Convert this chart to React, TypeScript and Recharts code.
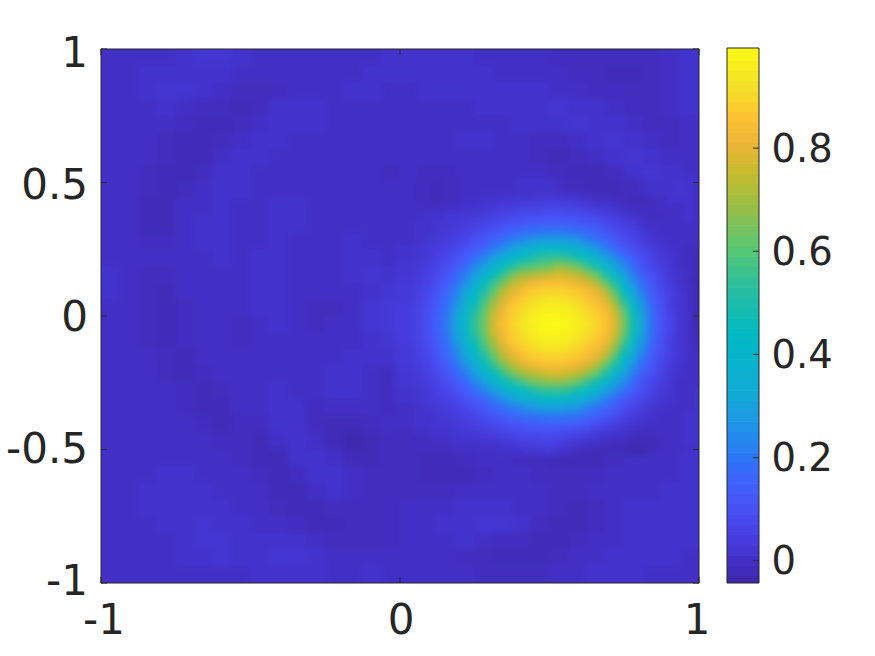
import React from 'react';
import { ScatterChart, Scatter, XAxis, YAxis, ReferenceArea } from 'recharts';

// Field values, in hundredths. Rows run from y = 1 down to y = -1.
const coarseTop = [
  [0,0,0,0,1,2,2,1,0,0,0,0,0,0,0,1,1,1,1,1,0,0,0,0,-1,-1,-1,-1,-1,-1,0,1],
  [0,0,1,1,1,1,1,0,0,0,0,0,0,0,1,1,1,1,1,1,1,0,0,0,0,-1,-1,-2,-2,-1,0,1],
  [0,0,1,2,2,1,0,-1,-1,-1,0,0,0,1,1,0,0,1,1,1,1,1,1,1,0,0,-1,-1,-1,-1,0,1],
  [0,0,0,1,0,-1,-1,-2,-1,1,1,1,0,0,0,0,0,0,0,0,1,1,1,1,2,1,1,0,-1,-1,0,1],
  [0,0,0,0,-1,-2,-2,-1,0,1,1,1,0,0,0,0,0,0,0,0,0,0,1,1,1,2,1,1,0,-1,-1,0],
  [0,0,0,-1,-2,-2,-1,0,1,1,0,0,0,0,0,0,0,0,0,1,1,0,0,-1,-1,0,1,2,1,0,-1,0],
  [0,0,0,-1,-2,-2,0,1,1,0,0,0,0,0,0,0,0,0,0,0,0,0,0,-1,-2,-1,0,1,2,1,0,0],
  [0,0,-1,-2,-2,-1,1,1,0,0,0,0,0,0,0,-1,0,-1,-1,0,0,0,0,0,-1,-2,-2,-1,1,2,1,0],
];
const coarseMiddle = [
  [0,0,-1,-2,-1,0,1,1,0,0,0,0,0,0,0,0],
  [0,0,-2,-2,0,0,1,0,0,1,1,0,0,0,0,0],
  [0,0,-2,-2,0,1,1,0,0,1,1,0,0,0,0,0],
  [0,0,-1,-1,0,1,1,0,0,1,0,0,0,1,0,0],
  [0,0,0,0,0,0,1,0,1,1,0,0,0,1,1,0],
  [1,0,-1,-1,0,0,0,0,1,1,0,0,0,1,2,1],
  [1,0,-1,-2,0,0,0,0,1,1,0,0,0,0,1,2],
  [0,0,-1,-2,-1,0,0,0,1,1,0,-1,-1,0,2,3],
  [0,0,-1,-2,-1,0,0,-1,0,1,0,-1,0,0,2,3],
  [0,0,-1,-2,-1,0,0,-1,0,0,0,0,0,0,1,2],
  [0,0,0,-1,-2,0,0,0,0,0,0,0,0,1,1,1],
  [0,0,0,-1,-2,-1,0,0,0,0,0,0,1,1,0,-1],
  [0,0,0,0,-1,-2,-1,0,0,1,0,0,1,1,0,-1],
  [0,0,0,0,-1,-2,-2,0,0,1,1,-1,0,0,0,-1],
  [0,0,0,0,0,-1,-2,-1,-1,1,1,-1,-2,-2,-1,0],
  [0,0,0,0,0,0,-1,-1,-2,0,1,0,-2,-3,-2,-1],
];
const coarseBottom = [
  [0,0,0,0,0,0,0,-1,-2,-2,1,1,0,-2,-2,-1,-1,-2,-2,-1,0,0,-1,-1,-2,-2,-2,-1,0,0,0,1],
  [0,0,0,1,1,0,0,0,-1,-2,-1,1,1,0,-1,-1,-1,-2,-2,-2,-1,0,0,-1,-1,-1,-1,0,0,0,0,1],
  [0,0,1,1,1,1,0,0,0,-2,-2,0,1,0,-1,-1,-1,-1,-1,0,0,0,0,0,-1,-1,0,0,0,0,1,1],
  [0,0,1,1,1,1,1,0,0,-1,-2,-2,-1,-1,-1,-1,0,0,0,1,1,1,0,0,-1,-2,-1,0,1,1,1,1],
  [0,0,0,1,1,2,1,1,0,0,-1,-2,-2,-1,-1,-1,0,0,1,1,2,2,1,-1,-2,-2,-1,0,1,1,1,1],
  [0,0,0,0,1,2,2,1,1,1,1,0,-1,-1,-1,-1,0,0,0,1,0,-1,-1,-2,-2,-1,0,0,1,1,1,1],
  [0,0,0,0,1,1,2,1,1,2,2,1,0,0,0,0,0,0,0,-1,-1,-2,-2,-2,-1,0,0,1,1,1,1,0],
  [0,0,0,0,0,0,0,0,1,1,1,1,0,0,1,0,0,0,0,0,-1,-1,-1,-1,0,0,1,1,1,0,0,0],
];
// Finer readings around the bright spot, left to right and top to bottom
const spotRows = [
  [0,0,-1,-1,-2,-1,-1,0,0,0,0,0,0,1,1,1,1,0,-1,-1,-2,-2,-2,-2,-1,-1,0,1,1,1,2,1,0],
  [0,0,-1,-1,-2,-1,-1,0,0,0,0,0,0,1,1,1,1,0,-1,-1,-2,-2,-2,-2,-1,-1,0,1,1,1,2,1,0],
  [0,0,-1,-1,-2,-1,-1,0,0,1,1,2,2,2,2,3,3,3,2,2,1,0,0,-1,-1,-2,-2,-1,0,1,1,1,0],
  [0,0,0,-1,-1,0,0,1,1,2,3,4,4,5,5,6,6,6,6,5,4,3,2,1,0,-1,-1,-1,0,0,0,1,0],
  [0,0,0,1,1,2,2,3,3,4,5,6,7,8,9,9,10,10,9,9,8,7,5,4,2,1,0,-1,-1,0,0,1,0],
  [0,0,1,1,2,2,3,4,5,6,8,9,11,12,13,14,14,14,14,13,12,11,9,7,5,3,1,0,0,0,0,0,0],
  [0,0,1,1,2,3,4,5,7,9,11,13,16,17,19,20,21,21,20,19,17,15,12,9,7,5,3,1,0,0,0,0,0],
  [0,0,1,2,3,4,5,7,10,12,16,18,22,24,27,29,30,30,29,27,23,20,16,13,9,7,4,2,1,0,0,0,-1],
  [1,1,2,3,4,5,7,10,13,16,21,25,30,34,37,40,41,41,40,37,33,28,22,17,12,9,6,4,2,1,0,-1,-1],
  [1,1,2,3,5,7,10,13,17,23,28,33,40,44,48,53,54,54,53,47,43,38,30,24,18,13,9,6,3,2,0,-1,-2],
  [2,2,3,4,6,9,12,16,23,29,36,43,50,56,58,60,62,67,65,62,55,48,39,31,24,17,10,7,4,2,0,-1,-2],
  [2,2,3,5,8,11,16,21,28,36,44,54,62,68,70,72,75,77,76,73,68,61,51,39,30,21,14,10,6,2,1,-1,-2],
  [3,3,4,6,9,13,18,25,33,43,54,63,72,77,81,83,84,84,83,81,78,72,61,50,36,25,17,11,7,3,1,-1,-3],
  [3,3,5,7,11,16,22,30,40,50,60,72,78,83,87,88,89,89,88,87,84,80,73,59,44,31,20,14,8,5,2,0,-3],
  [3,3,5,8,12,17,24,34,44,56,66,77,83,87,90,92,93,93,92,90,87,84,79,67,51,35,24,14,9,5,2,0,-3],
  [4,4,6,9,13,19,27,37,48,60,71,81,87,90,93,95,96,96,95,93,90,87,83,74,58,41,27,17,10,5,2,0,-3],
  [4,4,6,9,14,20,29,40,53,62,76,83,88,92,95,97,98,98,97,95,92,89,85,78,63,46,29,18,10,6,2,0,-3],
  [4,4,6,10,14,21,30,41,54,63,77,84,89,93,96,98,99,99,98,96,93,90,86,79,65,47,30,18,11,6,3,0,-3],
  [4,4,6,9,14,20,29,40,53,62,76,83,88,92,95,97,98,98,97,95,92,89,85,78,63,46,29,18,10,6,2,0,-2],
  [4,4,6,9,13,19,27,37,48,60,71,81,87,90,93,95,96,96,95,93,90,87,83,74,58,41,27,17,10,5,2,0,-2],
  [3,3,5,8,12,17,24,34,44,56,66,77,83,87,90,92,93,93,92,90,87,84,79,67,51,35,24,14,9,5,2,0,-1],
  [3,3,5,7,11,16,22,30,40,50,60,72,78,83,87,88,89,89,88,87,84,80,73,59,44,31,20,14,8,5,2,0,0],
  [3,3,4,6,9,13,18,25,33,43,54,63,72,77,81,83,84,84,83,81,78,72,61,50,36,25,17,11,7,3,1,0,0],
  [2,2,3,5,8,11,16,21,28,36,44,54,62,68,72,74,77,77,76,73,68,61,51,39,30,21,14,10,6,2,1,0,0],
  [2,2,3,4,6,9,12,16,23,29,36,43,50,56,62,65,66,67,65,62,55,48,39,31,24,17,10,7,4,2,0,0,0],
  [1,1,2,3,5,7,10,13,17,23,28,33,40,44,48,53,54,54,53,47,43,38,30,24,18,13,9,6,3,2,0,0,1],
  [1,1,2,3,4,5,7,10,13,16,21,25,30,34,37,40,41,41,40,37,33,28,22,17,12,9,6,4,2,1,0,0,1],
  [0,0,1,2,3,4,5,7,10,12,16,18,22,24,27,29,30,30,29,27,23,20,16,13,9,7,4,2,1,0,0,0,1],
  [0,0,1,1,2,3,4,5,7,9,11,13,16,17,19,20,21,21,20,19,17,15,12,9,6,4,2,1,0,0,0,1,1],
  [0,0,1,1,2,2,3,4,5,6,8,9,11,12,13,14,14,14,14,13,11,9,7,5,3,2,1,0,0,0,0,1,1],
  [-1,-1,0,0,1,1,2,3,3,4,5,6,7,8,9,9,10,9,8,7,6,4,3,2,1,0,-1,-1,0,0,0,1,1],
  [-1,-1,-1,-1,0,0,1,1,1,2,2,3,4,5,5,6,6,5,4,3,2,1,0,-1,-1,-2,-2,-2,-1,0,0,1,1],
  [-1,-1,-1,-1,-1,-1,0,0,0,0,0,1,1,2,3,3,4,2,1,0,-1,-2,-2,-2,-2,-3,-3,-2,-1,0,0,0,1],
];
const colorbarLevels = [-4,-2,0,2,4,6,8,10,12,14,16,18,20,22,24,26,28,30,32,34,36,38,40,42,44,46,48,50,52,54,56,58,60,62,64,66,68,70,72,74,76,78,80,82,84,86,88,90,92,94,96,98,100];
const axisTicks = [-1, 0, 1];
const yTicks = [-1, -0.5, 0, 0.5, 1];
const barTicks = [0, 0.2, 0.4, 0.6, 0.8];
const plotCorners = [{ x: -1, y: -1 }, { x: 1, y: 1 }];
const valueMin = -0.043;
const valueMax = 0.994;
const barCorners = [{ x: -1, y: valueMin }, { x: 1, y: valueMax }];

const parulaStops: [number, number, number, number][] = [
  [0, 62, 38, 168], [0.048, 67, 50, 203], [0.095, 71, 65, 229], [0.143, 72, 82, 244], [0.19, 62, 99, 253],
  [0.234, 45, 118, 245], [0.3, 30, 150, 230], [0.35, 20, 170, 215], [0.465, 0, 187, 195], [0.55, 40, 190, 160],
  [0.62, 85, 200, 120], [0.7, 150, 190, 70], [0.77, 200, 188, 45], [0.82, 235, 180, 55], [0.87, 254, 195, 50],
  [0.93, 245, 225, 40], [1, 250, 250, 20],
];
function parula(hundredths: number) {
  const t = Math.max(0, Math.min(1, (hundredths / 100 - valueMin) / (valueMax - valueMin)));
  for (let i = 1; i < parulaStops.length; i++) {
    const a = parulaStops[i - 1], b = parulaStops[i];
    if (t <= b[0]) {
      const f = (t - a[0]) / (b[0] - a[0]);
      return `rgb(${Math.round(a[1] + (b[1] - a[1]) * f)},${Math.round(a[2] + (b[2] - a[2]) * f)},${Math.round(a[3] + (b[3] - a[3]) * f)})`;
    }
  }
  return 'rgb(250,250,20)';
}

const W = 875, H = 656, L = 101, R = 699, T = 49, B = 583;
const PW = R - L, PH = B - T;
const INK = '#262626';
const FONT = { fontFamily: 'DejaVu Sans', fontSize: 42, fill: INK };
const BAR_FONT = { fontFamily: 'DejaVu Sans', fontSize: 38.5, fill: INK };

type Cell = { x: number; y: number; v: number; fine: boolean };
const cells: Cell[] = [];
[...coarseTop, ...coarseMiddle, ...coarseBottom].forEach((row, j) =>
  row.forEach((v, i) => cells.push({ x: -1 + (i + 0.5) / 16, y: 1 - (j + 0.5) / 16, v, fine: false })));
const fineCells: Cell[] = [];
spotRows.forEach((row, j) =>
  row.forEach((v, i) => fineCells.push({ x: i / 32, y: 0.5 - j / 32, v, fine: true })));
const barCells = colorbarLevels.map((v) => ({ x: 0, y: v / 100, v }));

const HeatCell = (p: any) => {
  const fine = p.payload.fine;
  const cw = fine ? PW / 64 : PW / 32;
  const ch = fine ? PH / 64 : PH / 32;
  let x0 = p.cx - cw / 2, x1 = p.cx + cw / 2, y0 = p.cy - ch / 2, y1 = p.cy + ch / 2;
  if (x0 <= L + 1) x0 -= 14;
  if (x1 >= R - 1) x1 += 14;
  if (y0 <= T + 1) y0 -= 14;
  if (y1 >= B - 1) y1 += 14;
  return <rect x={x0 - 0.4} y={y0 - 0.4} width={x1 - x0 + 0.8} height={y1 - y0 + 0.8} fill={parula(p.payload.v)} />;
};
const BarCell = (p: any) => {
  const h = (535 * 0.02) / (valueMax - valueMin);
  return <rect x={727} y={p.cy - h / 2 - 0.3} width={32} height={h + 0.6} fill={parula(p.payload.v)} />;
};
const NoMark = () => <g />;

const label = (v: number) => String(v);
const xShift: Record<string, number> = { '-1': 3, '0': 1, '1': -2 };
const XTick = (p: any) => (
  <g>
    <line x1={p.x} x2={p.x} y1={B} y2={B - 6} stroke={INK} />
    <line x1={p.x} x2={p.x} y1={T} y2={T + 6} stroke={INK} />
    <text x={p.x + xShift[String(p.payload.value)]} y={634} textAnchor="middle" {...FONT}>{label(p.payload.value)}</text>
  </g>
);
const yShift: Record<string, number> = { '1': 17.5, '0.5': 16, '0': 14.7, '-0.5': 13.3, '-1': 12 };
const YTick = (p: any) => (
  <g>
    <line x1={L} x2={L + 6} y1={p.y} y2={p.y} stroke={INK} />
    <line x1={R} x2={R - 6} y1={p.y} y2={p.y} stroke={INK} />
    <text x={88} y={p.y + yShift[String(p.payload.value)]} textAnchor="end" {...FONT}>{label(p.payload.value)}</text>
  </g>
);
const BarTick = (p: any) => (
  <g>
    <line x1={759} x2={753} y1={p.y} y2={p.y} stroke={INK} />
    <text x={771.5} y={p.y + 13.5} textAnchor="start" {...BAR_FONT}>{label(p.payload.value)}</text>
  </g>
);

const layer: React.CSSProperties = { position: 'absolute', left: 0, top: 0 };

export default function App() {
  const plotMargin = { left: L, right: W - R, top: T, bottom: H - B };
  return (
    <div style={{ position: 'absolute', left: 0, top: 0, width: W, height: H, background: '#fff', overflow: 'hidden' }}>
      <div style={{ position: 'absolute', left: L, top: T, width: PW, height: PH, overflow: 'hidden' }}>
        <div style={{ position: 'absolute', left: -L, top: -T, width: W, height: H, filter: 'blur(3px)' }}>
          <ScatterChart width={W} height={H} margin={plotMargin}>
            <XAxis type="number" dataKey="x" domain={[-1, 1]} hide />
            <YAxis type="number" dataKey="y" domain={[-1, 1]} hide />
            <Scatter data={cells} isAnimationActive={false} shape={HeatCell} />
            <Scatter data={fineCells} isAnimationActive={false} shape={HeatCell} />
          </ScatterChart>
        </div>
      </div>
      <div style={{ position: 'absolute', left: 727, top: 48, width: 32, height: 535, overflow: 'hidden' }}>
        <div style={{ position: 'absolute', left: -727, top: -48, width: W, height: H }}>
          <ScatterChart width={W} height={H} margin={{ left: 727, right: W - 759, top: 48, bottom: H - 583 }}>
            <XAxis type="number" dataKey="x" domain={[-1, 1]} hide />
            <YAxis type="number" dataKey="y" domain={[valueMin, valueMax]} allowDataOverflow hide />
            <Scatter data={barCells} isAnimationActive={false} shape={BarCell} />
          </ScatterChart>
        </div>
      </div>
      <div style={layer}>
        <ScatterChart width={W} height={H} margin={{ left: L - 60, right: W - R, top: T, bottom: H - B - 60 }}>
          <XAxis type="number" dataKey="x" domain={[-1, 1]} ticks={axisTicks} height={60} tick={XTick} tickLine={false} axisLine={false} interval={0} />
          <YAxis type="number" dataKey="y" domain={[-1, 1]} ticks={yTicks} width={60} tick={YTick} tickLine={false} axisLine={false} interval={0} />
          <ReferenceArea x1={-1} x2={1} y1={-1} y2={1} fill="none" stroke={INK} strokeWidth={1} fillOpacity={0} />
          <Scatter data={plotCorners} isAnimationActive={false} shape={NoMark} />
        </ScatterChart>
      </div>
      <div style={layer}>
        <ScatterChart width={W} height={H} margin={{ left: 727, right: W - 759 - 60, top: 48, bottom: H - 583 }}>
          <XAxis type="number" dataKey="x" domain={[-1, 1]} hide />
          <YAxis type="number" dataKey="y" orientation="right" domain={[valueMin, valueMax]} allowDataOverflow ticks={barTicks} width={60} tick={BarTick} tickLine={false} axisLine={false} interval={0} />
          <ReferenceArea x1={-1} x2={1} y1={valueMin} y2={valueMax} fill="none" stroke={INK} strokeWidth={1} fillOpacity={0} />
          <Scatter data={barCorners} isAnimationActive={false} shape={NoMark} />
        </ScatterChart>
      </div>
    </div>
  );
}
